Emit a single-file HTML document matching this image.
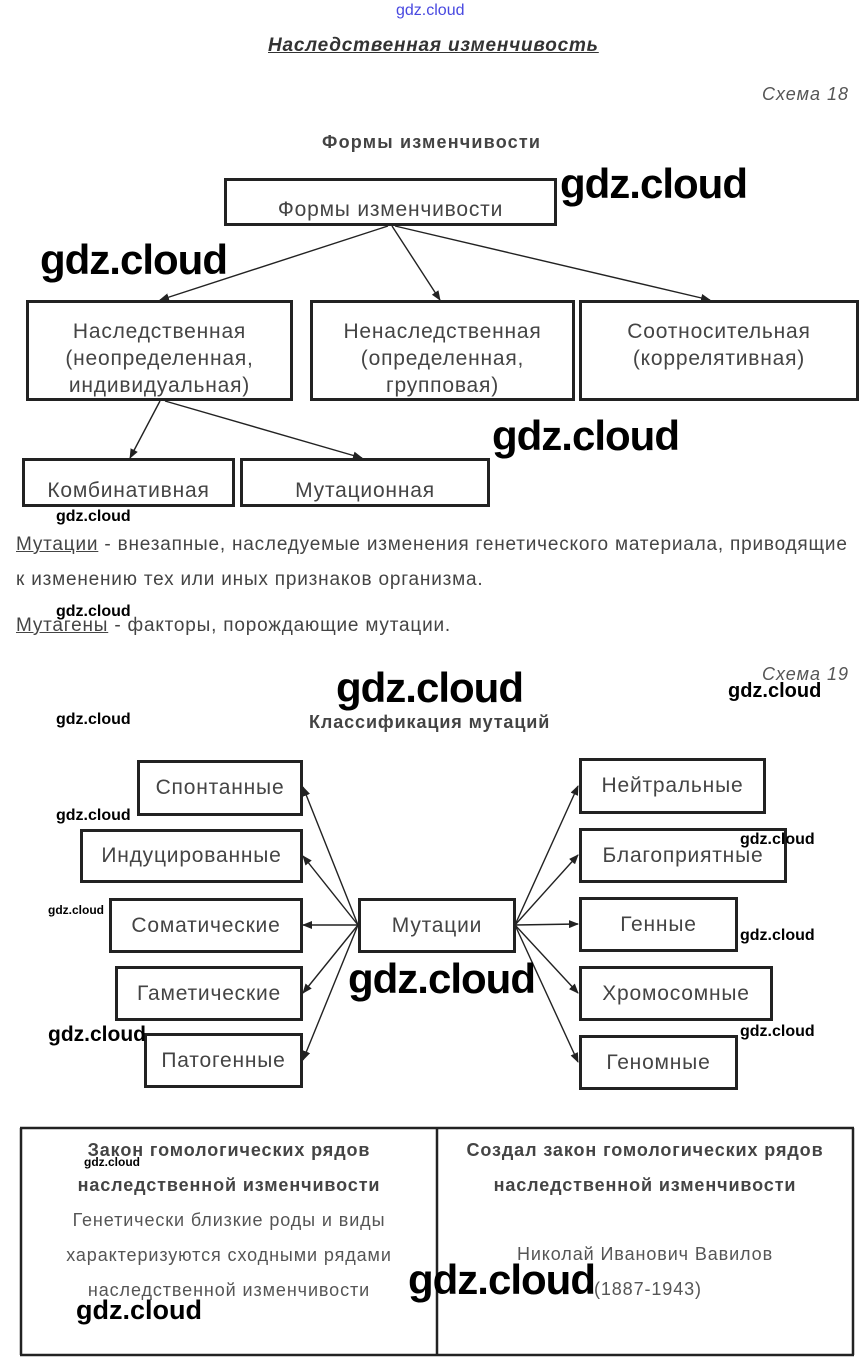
<!DOCTYPE html>
<html><head><meta charset="utf-8"><style>
body{margin:0;width:866px;height:1371px;background:#fff;position:relative;overflow:hidden;font-family:"Liberation Sans",sans-serif;color:#333}
.a{position:absolute}
.b{position:absolute;border:3px solid #222;box-sizing:border-box;text-align:center;color:#444;overflow:hidden;background:#fff;letter-spacing:0.8px;white-space:nowrap}
.w{position:absolute;color:#000;font-weight:bold;white-space:nowrap}
.wl{font-size:42px;letter-spacing:-1px}
.ws{font-size:16px}
.t{position:absolute;text-align:center;color:#555;font-size:18px;letter-spacing:0.9px;white-space:nowrap}
</style></head><body>
<div class="a" style="left:396px;top:2px;font-size:16px;color:#4848e0">gdz.cloud</div>
<div class="a" style="left:268px;top:35px;font-size:19px;font-weight:bold;font-style:italic;text-decoration:underline;color:#333;letter-spacing:0.8px">Наследственная изменчивость</div>
<div class="a" style="left:762px;top:84px;font-size:18px;font-style:italic;color:#555;letter-spacing:1px">Схема 18</div>
<div class="a" style="left:322px;top:132px;font-size:18px;font-weight:bold;color:#444;letter-spacing:1.2px">Формы изменчивости</div>

<svg class="a" style="left:0;top:0" width="866" height="1371">
<defs><marker id="m" markerWidth="10" markerHeight="8" refX="9" refY="4" orient="auto" markerUnits="userSpaceOnUse"><path d="M0,0L10,4L0,8z" fill="#222"/></marker></defs>
<g stroke="#222" stroke-width="1.4" fill="none" marker-end="url(#m)">
<line x1="388" y1="226" x2="160" y2="300"/>
<line x1="392" y1="226" x2="440" y2="300"/>
<line x1="395" y1="226" x2="710" y2="300"/>
<line x1="160" y1="401" x2="130" y2="458"/>
<line x1="165" y1="401" x2="362" y2="458"/>
<line x1="358" y1="925" x2="303" y2="787"/>
<line x1="358" y1="925" x2="303" y2="856"/>
<line x1="358" y1="925" x2="303" y2="925"/>
<line x1="358" y1="925" x2="303" y2="993"/>
<line x1="358" y1="925" x2="303" y2="1060"/>
<line x1="515" y1="925" x2="578" y2="786"/>
<line x1="515" y1="925" x2="578" y2="855"/>
<line x1="515" y1="925" x2="578" y2="924"/>
<line x1="515" y1="925" x2="578" y2="993"/>
<line x1="515" y1="925" x2="578" y2="1062"/>
</g>
<g stroke="#222" stroke-width="2.5">
<line x1="20" y1="1128" x2="854" y2="1128"/>
<line x1="20" y1="1355" x2="854" y2="1355"/>
<line x1="21" y1="1128" x2="21" y2="1355"/>
<line x1="853" y1="1128" x2="853" y2="1355"/>
<line x1="437" y1="1128" x2="437" y2="1355"/>
</g>
</svg>

<div class="b" style="left:224px;top:178px;width:333px;height:48px;font-size:21px;line-height:21px;padding-top:18px">Формы изменчивости</div>
<div class="b" style="left:26px;top:300px;width:267px;height:101px;font-size:21px;line-height:27px;padding-top:15px">Наследственная<br>(неопределенная,<br>индивидуальная)</div>
<div class="b" style="left:310px;top:300px;width:265px;height:101px;font-size:21px;line-height:27px;padding-top:15px">Ненаследственная<br>(определенная,<br>групповая)</div>
<div class="b" style="left:579px;top:300px;width:280px;height:101px;font-size:21px;line-height:27px;padding-top:15px">Соотносительная<br>(коррелятивная)</div>
<div class="b" style="left:22px;top:458px;width:213px;height:49px;font-size:21px;line-height:21px;padding-top:19px">Комбинативная</div>
<div class="b" style="left:240px;top:458px;width:250px;height:49px;font-size:21px;line-height:21px;padding-top:19px">Мутационная</div>

<div class="a" style="left:16px;top:527px;font-size:19px;color:#444;line-height:35px;white-space:nowrap;letter-spacing:0.8px"><u>Мутации</u> - внезапные, наследуемые изменения генетического материала, приводящие<br>к изменению тех или иных признаков организма.</div>
<div class="a" style="left:16px;top:615px;font-size:19px;color:#444;letter-spacing:0.8px"><u>Мутагены</u> - факторы, порождающие мутации.</div>

<div class="a" style="left:762px;top:664px;font-size:18px;font-style:italic;color:#555;letter-spacing:1px">Схема 19</div>
<div class="a" style="left:309px;top:712px;font-size:18px;font-weight:bold;color:#444;letter-spacing:0.9px">Классификация мутаций</div>

<div class="b" style="left:137px;top:760px;width:166px;height:56px;font-size:21px;line-height:50px">Спонтанные</div>
<div class="b" style="left:80px;top:829px;width:223px;height:54px;font-size:21px;line-height:48px">Индуцированные</div>
<div class="b" style="left:109px;top:898px;width:194px;height:55px;font-size:21px;line-height:49px">Соматические</div>
<div class="b" style="left:115px;top:966px;width:188px;height:55px;font-size:21px;line-height:49px">Гаметические</div>
<div class="b" style="left:144px;top:1033px;width:159px;height:55px;font-size:21px;line-height:49px">Патогенные</div>
<div class="b" style="left:358px;top:898px;width:158px;height:55px;font-size:21px;line-height:49px">Мутации</div>
<div class="b" style="left:579px;top:758px;width:187px;height:56px;font-size:21px;line-height:50px">Нейтральные</div>
<div class="b" style="left:579px;top:828px;width:208px;height:55px;font-size:21px;line-height:49px">Благоприятные</div>
<div class="b" style="left:579px;top:897px;width:159px;height:55px;font-size:21px;line-height:49px">Генные</div>
<div class="b" style="left:579px;top:966px;width:194px;height:55px;font-size:21px;line-height:49px">Хромосомные</div>
<div class="b" style="left:579px;top:1035px;width:159px;height:55px;font-size:21px;line-height:49px">Геномные</div>

<div class="t" style="left:22px;top:1133px;width:414px;line-height:35px"><b style="color:#444">Закон гомологических рядов<br>наследственной изменчивости</b><br>Генетически близкие роды и виды<br>характеризуются сходными рядами<br>наследственной изменчивости</div>
<div class="t" style="left:438px;top:1133px;width:414px;line-height:35px"><b style="color:#444">Создал закон гомологических рядов<br>наследственной изменчивости</b></div>
<div class="t" style="left:438px;top:1237px;width:414px;line-height:35px">Николай Иванович Вавилов<br>&nbsp;(1887-1943)</div>

<div class="w wl" style="left:560px;top:160px">gdz.cloud</div>
<div class="w wl" style="left:40px;top:236px">gdz.cloud</div>
<div class="w wl" style="left:492px;top:412px">gdz.cloud</div>
<div class="w ws" style="left:56px;top:508px">gdz.cloud</div>
<div class="w ws" style="left:56px;top:603px">gdz.cloud</div>
<div class="w wl" style="left:336px;top:664px">gdz.cloud</div>
<div class="w" style="left:728px;top:680px;font-size:20px">gdz.cloud</div>
<div class="w ws" style="left:56px;top:711px">gdz.cloud</div>
<div class="w ws" style="left:56px;top:807px">gdz.cloud</div>
<div class="w ws" style="left:740px;top:831px">gdz.cloud</div>
<div class="w" style="left:48px;top:903px;font-size:12px">gdz.cloud</div>
<div class="w ws" style="left:740px;top:927px">gdz.cloud</div>
<div class="w wl" style="left:348px;top:955px">gdz.cloud</div>
<div class="w" style="left:48px;top:1023px;font-size:21px">gdz.cloud</div>
<div class="w ws" style="left:740px;top:1023px">gdz.cloud</div>
<div class="w" style="left:84px;top:1155px;font-size:12px">gdz.cloud</div>
<div class="w wl" style="left:408px;top:1256px">gdz.cloud</div>
<div class="w" style="left:76px;top:1295px;font-size:27px">gdz.cloud</div>
</body></html>
